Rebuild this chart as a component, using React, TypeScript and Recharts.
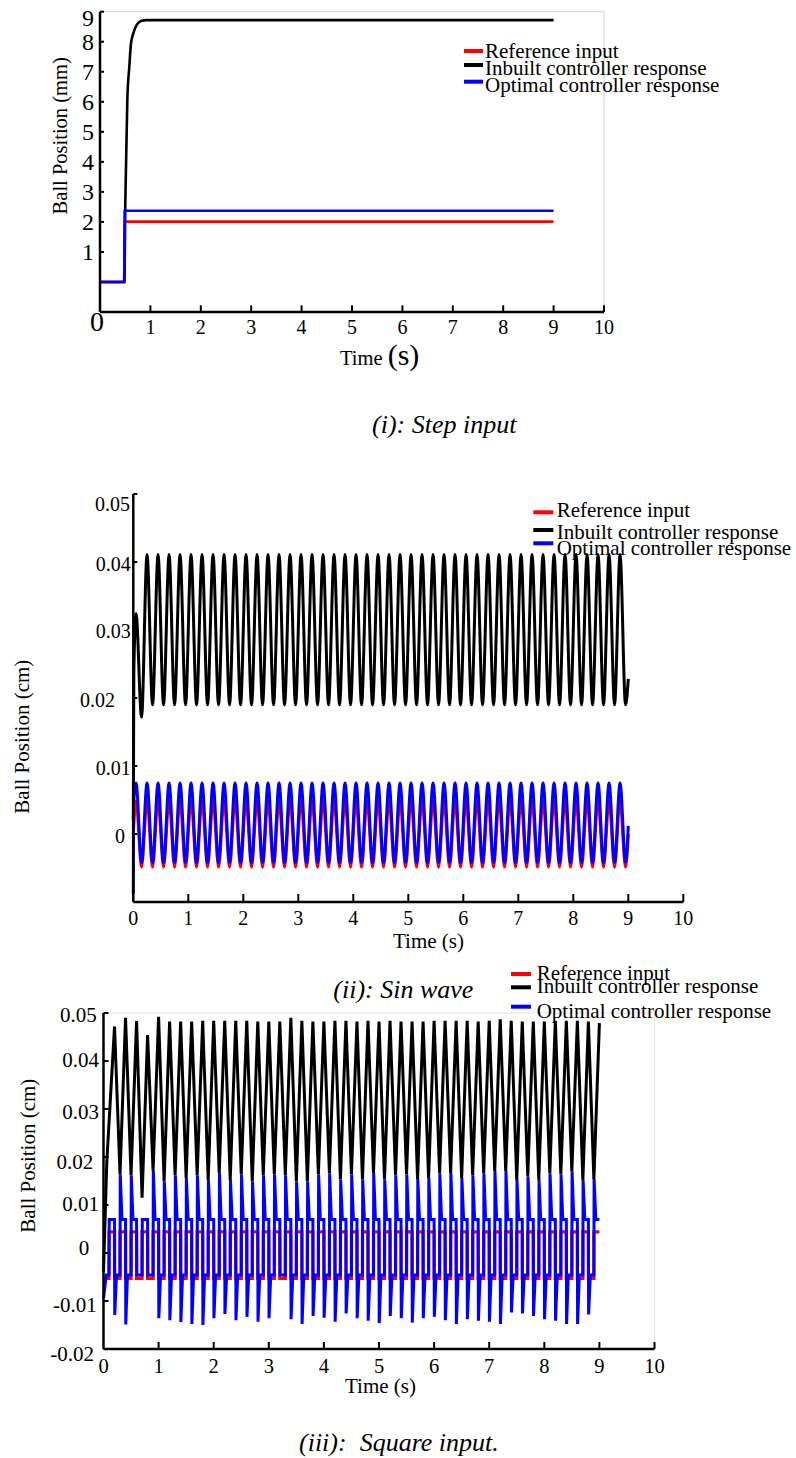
import React from 'react';
import { LineChart, Line, XAxis, YAxis, ReferenceLine, Legend, Label } from 'recharts';

const FONT = '"Liberation Serif", "Times New Roman", Times, serif';
const RED = '#ff0000';
const BLACK = '#000000';
const BLUE = '#0000ff';

// ---------- shared ----------
const seriesNames = ['Reference input', 'Inbuilt controller response', 'Optimal controller response'];
const seriesColors = [RED, BLACK, BLUE];
const timeTicks = [0, 1, 2, 3, 4, 5, 6, 7, 8, 9, 10];

// ---------- (i) step input ----------
const stepYTicks = [1, 2, 3, 4, 5, 6, 7, 8, 9];
const stepRefTime = [0, 0.48, 0.49, 9];
const stepRefValue = [0, 0, 2.01, 2.01];
const stepInbuiltTime = [0, 0.483, 0.503, 0.542, 0.582, 0.615, 0.661, 0.728, 0.827, 0.926, 9];
const stepInbuiltValue = [0, 0, 2.72, 6.06, 7.17, 7.95, 8.28, 8.56, 8.7, 8.72, 8.72];
const stepOptimalTime = [0, 0.48, 0.49, 9];
const stepOptimalValue = [0, 0, 2.37, 2.37];

// ---------- (ii) sine wave ----------
const sinYTicks = [0, 0.01, 0.02, 0.03, 0.04, 0.05];
const sinPeakTimes = [0.05, 0.25, 0.45, 0.65, 0.85, 1.05, 1.25, 1.45, 1.65, 1.85, 2.05, 2.25, 2.45, 2.65, 2.85,
  3.05, 3.25, 3.45, 3.65, 3.85, 4.05, 4.25, 4.45, 4.65, 4.85, 5.05, 5.25, 5.45, 5.65, 5.85,
  6.05, 6.25, 6.45, 6.65, 6.85, 7.05, 7.25, 7.45, 7.65, 7.85, 8.05, 8.25, 8.45, 8.65, 8.85];
const sinTroughTimes = [0.15, 0.35, 0.55, 0.75, 0.95, 1.15, 1.35, 1.55, 1.75, 1.95, 2.15, 2.35, 2.55, 2.75, 2.95,
  3.15, 3.35, 3.55, 3.75, 3.95, 4.15, 4.35, 4.55, 4.75, 4.95, 5.15, 5.35, 5.55, 5.75, 5.95,
  6.15, 6.35, 6.55, 6.75, 6.95, 7.15, 7.35, 7.55, 7.75, 7.95, 8.15, 8.35, 8.55, 8.75, 8.95];
const sinRefStartTime = [0];
const sinRefStartValue = [0];
const sinRefPeak = 0.0049;
const sinRefTrough = -0.0049;
const sinRefEnd = 0;
const sinInbuiltStartTime = [0, 0.01];
const sinInbuiltStartValue = [0.002, 0.024];
const sinInbuiltPeaks = [0.0324,
  0.0411, 0.0411, 0.0411, 0.0411, 0.0411, 0.0411, 0.0411, 0.0411, 0.0411, 0.0411, 0.0411,
  0.0411, 0.0411, 0.0411, 0.0411, 0.0411, 0.0411, 0.0411, 0.0411, 0.0411, 0.0411, 0.0411,
  0.0411, 0.0411, 0.0411, 0.0411, 0.0411, 0.0411, 0.0411, 0.0411, 0.0411, 0.0411, 0.0411,
  0.0411, 0.0411, 0.0411, 0.0411, 0.0411, 0.0411, 0.0411, 0.0411, 0.0411, 0.0411, 0.0411];
const sinInbuiltTroughs = [0.0172,
  0.019, 0.019, 0.019, 0.019, 0.019, 0.019, 0.019, 0.019, 0.019, 0.019, 0.019,
  0.019, 0.019, 0.019, 0.019, 0.019, 0.019, 0.019, 0.019, 0.019, 0.019, 0.019,
  0.019, 0.019, 0.019, 0.019, 0.019, 0.019, 0.019, 0.019, 0.019, 0.019, 0.019,
  0.019, 0.019, 0.019, 0.019, 0.019, 0.019, 0.019, 0.019, 0.019, 0.019, 0.019];
const sinInbuiltEnd = 0.0228;
const sinOptimalStartTime = [0, 0.004];
const sinOptimalStartValue = [-0.0088, 0.004];
const sinOptimalPeak = 0.0075;
const sinOptimalTrough = -0.0042;
const sinOptimalEnd = 0.0012;
const sinEndTime = 9;

// ---------- (iii) square input ----------
const sqYTicks = [-0.02, -0.01, 0, 0.01, 0.02, 0.03, 0.04, 0.05];
const risingEdges = [0.1, 0.3, 0.5, 0.7, 0.9, 1.1, 1.3, 1.5, 1.7, 1.9, 2.1, 2.3, 2.5, 2.7, 2.9,
  3.1, 3.3, 3.5, 3.7, 3.9, 4.1, 4.3, 4.5, 4.7, 4.9, 5.1, 5.3, 5.5, 5.7, 5.9,
  6.1, 6.3, 6.5, 6.7, 6.9, 7.1, 7.3, 7.5, 7.7, 7.9, 8.1, 8.3, 8.5, 8.7, 8.9];
const fallingEdges = [0.2, 0.4, 0.6, 0.8, 1.0, 1.2, 1.4, 1.6, 1.8, 2.0, 2.2, 2.4, 2.6, 2.8, 3.0,
  3.2, 3.4, 3.6, 3.8, 4.0, 4.2, 4.4, 4.6, 4.8, 5.0, 5.2, 5.4, 5.6, 5.8, 6.0,
  6.2, 6.4, 6.6, 6.8, 7.0, 7.2, 7.4, 7.6, 7.8, 8.0, 8.2, 8.4, 8.6, 8.8, 9.0];
const sqRefLow = -0.0053;
const sqRefHigh = 0.0044;
const sqInbuiltStartTime = [0, 0.06];
const sqInbuiltStartValue = [-0.004, 0.019];
const sqInbuiltPeaks = [0.0472, 0.049, 0.0483, 0.0454, 0.0492, 0.0482, 0.0482, 0.0482, 0.0484, 0.0484,
  0.0484, 0.0484, 0.0484, 0.0482, 0.0482, 0.0482, 0.049, 0.0484, 0.0482, 0.0482,
  0.0484, 0.0484, 0.0482, 0.0484, 0.0482, 0.0484, 0.0482, 0.0482, 0.0482, 0.0484,
  0.0484, 0.0484, 0.0484, 0.0482, 0.0484, 0.0487, 0.0484, 0.0482, 0.0482, 0.0482,
  0.0484, 0.0484, 0.0484, 0.0482, 0.0479];
const sqInbuiltTroughs = [0.0164, 0.0162, 0.0115, 0.0171, 0.0149, 0.0162, 0.0156, 0.0162, 0.0152, 0.0167,
  0.0152, 0.0164, 0.0149, 0.0162, 0.0164, 0.0162, 0.0149, 0.0149, 0.0164, 0.0166,
  0.0153, 0.0164, 0.0153, 0.0167, 0.0153, 0.0162, 0.0164, 0.0154, 0.0156, 0.0166,
  0.0167, 0.0156, 0.0162, 0.0166, 0.0171, 0.0171, 0.0152, 0.016, 0.0152, 0.0166,
  0.0164, 0.017, 0.0152, 0.0154];
const sqOptimalStartTime = [0, 0.05];
const sqOptimalStartValue = [-0.0095, -0.0046];
const sqOptimalHigh = 0.007;
const sqOptimalLow = -0.0046;
const sqOptimalUpSpikes: (number | null)[] = [null, 0.0164, 0.0162, null, 0.0171, 0.0149, 0.0162, 0.0156, 0.0162, 0.0152,
  0.0167, 0.0152, 0.0164, 0.0149, 0.0162, 0.0164, 0.0162, 0.0149, 0.0149, 0.0164,
  0.0166, 0.0153, 0.0164, 0.0153, 0.0167, 0.0153, 0.0162, 0.0164, 0.0154, 0.0156,
  0.0166, 0.0167, 0.0156, 0.0162, 0.0166, 0.0171, 0.0171, 0.0152, 0.016, 0.0152,
  0.0166, 0.0164, 0.017, 0.0152, 0.0154];
const sqOptimalDownSpikes: (number | null)[] = [-0.0129, -0.0149, null, null, -0.0136, -0.014, -0.0144, -0.0148, -0.015, -0.0136,
  -0.0127, -0.014, -0.0133, -0.0143, -0.0136, null, -0.0138, -0.0148, -0.0131, -0.0135,
  -0.0143, -0.0126, -0.0136, -0.0141, -0.0146, -0.0131, -0.0136, -0.0145, -0.0136, -0.0133,
  -0.014, -0.0148, -0.0138, -0.0141, -0.0143, -0.0148, -0.0124, -0.0126, -0.0131, -0.0138,
  -0.0141, -0.0148, -0.0148, -0.0128, null];

// ---------- builders ----------
type Pt = { t: number; v: number };
const zip = (ts: number[], vs: number[]): Pt[] => ts.map((t, i) => ({ t, v: vs[i] }));
const at = (x: number | number[], i: number) => (Array.isArray(x) ? x[i] : x);

function oscillation(st: number[], sv: number[], peaks: number | number[], troughs: number | number[], endV: number): Pt[] {
  const pts = zip(st, sv);
  sinPeakTimes.forEach((t, i) => {
    pts.push({ t, v: at(peaks, i) });
    pts.push({ t: sinTroughTimes[i], v: at(troughs, i) });
  });
  pts.push({ t: sinEndTime, v: endV });
  return pts;
}

const EDGE = 0.004; // width of a switching edge (s)
const SETTLE = 0.035; // settling after a spike (s)

function squareRef(): Pt[] {
  const pts: Pt[] = [{ t: 0, v: sqRefLow }];
  const last = risingEdges.length - 1;
  risingEdges.forEach((r, k) => {
    const f = fallingEdges[k];
    pts.push({ t: r, v: sqRefLow }, { t: r, v: sqRefHigh }, { t: f, v: sqRefHigh });
    if (k < last) pts.push({ t: f, v: sqRefLow });
  });
  return pts;
}

function squareInbuilt(): Pt[] {
  const pts = zip(sqInbuiltStartTime, sqInbuiltStartValue);
  const last = fallingEdges.length - 1;
  fallingEdges.forEach((f, k) => {
    pts.push({ t: f, v: sqInbuiltPeaks[k] });
    if (k < last) pts.push({ t: risingEdges[k + 1], v: sqInbuiltTroughs[k] });
  });
  return pts;
}

function squareOptimal(): Pt[] {
  const pts = zip(sqOptimalStartTime, sqOptimalStartValue);
  const last = risingEdges.length - 1;
  risingEdges.forEach((r, k) => {
    const f = fallingEdges[k];
    pts.push({ t: r, v: sqOptimalLow });
    const up = sqOptimalUpSpikes[k];
    if (up != null) pts.push({ t: r + EDGE, v: up }, { t: r + SETTLE, v: sqOptimalHigh });
    else pts.push({ t: r + EDGE, v: sqOptimalHigh });
    pts.push({ t: f, v: sqOptimalHigh });
    if (k < last) {
      const dn = sqOptimalDownSpikes[k];
      if (dn != null) pts.push({ t: f + EDGE, v: dn }, { t: f + SETTLE, v: sqOptimalLow });
      else pts.push({ t: f + EDGE, v: sqOptimalLow });
    }
  });
  return pts;
}

const stepRef = zip(stepRefTime, stepRefValue);
const stepInbuilt = zip(stepInbuiltTime, stepInbuiltValue);
const stepOptimal = zip(stepOptimalTime, stepOptimalValue);
const sinRef = oscillation(sinRefStartTime, sinRefStartValue, sinRefPeak, sinRefTrough, sinRefEnd);
const sinInbuilt = oscillation(sinInbuiltStartTime, sinInbuiltStartValue, sinInbuiltPeaks, sinInbuiltTroughs, sinInbuiltEnd);
const sinOptimal = oscillation(sinOptimalStartTime, sinOptimalStartValue, sinOptimalPeak, sinOptimalTrough, sinOptimalEnd);
const sqRef = squareRef();
const sqInbuilt = squareInbuilt();
const sqOptimal = squareOptimal();

// ---------- ticks ----------
type XTickCfg = { len: number; fs: number; base: number; zeroFs?: number; zeroBase?: number; zeroDx?: number };
const makeXTick = (c: XTickCfg) => (p: any) => {
  const { x, y, payload } = p;
  const v = payload.value;
  const zero = v === 0;
  return (
    <g>
      {!zero && <line x1={x} y1={y} x2={x} y2={y - c.len} stroke={BLACK} strokeWidth={2} />}
      <text
        x={x + (zero && c.zeroDx ? c.zeroDx : 0)}
        y={y + (zero && c.zeroBase != null ? c.zeroBase : c.base)}
        textAnchor="middle"
        fontFamily={FONT}
        fontSize={zero && c.zeroFs ? c.zeroFs : c.fs}
        fill={BLACK}
      >
        {String(v)}
      </text>
    </g>
  );
};

type YTickCfg = { len: number; fs: number; gap: number; dy: number; dxMap?: Record<string, number>; dyMap?: Record<string, number> };
const makeYTick = (c: YTickCfg) => (p: any) => {
  const { x, y, payload } = p;
  const key = String(payload.value);
  return (
    <g>
      <line x1={x} y1={y} x2={x + c.len} y2={y} stroke={BLACK} strokeWidth={2} />
      <text
        x={x - c.gap + (c.dxMap?.[key] ?? 0)}
        y={y + c.dy + (c.dyMap?.[key] ?? 0)}
        textAnchor="end"
        fontFamily={FONT}
        fontSize={c.fs}
        fill={BLACK}
      >
        {key}
      </text>
    </g>
  );
};

// ---------- legend ----------
type LegendCfg = { x1: number; x2: number; textX: number; lineY: number[]; baseY: number[] };
const LegendBox = ({ cfg }: { cfg: LegendCfg }) => (
  <svg width={320} height={80} style={{ overflow: 'visible', display: 'block' }}>
    {seriesNames.map((name, i) => (
      <g key={name}>
        <line x1={cfg.x1} x2={cfg.x2} y1={cfg.lineY[i]} y2={cfg.lineY[i]} stroke={seriesColors[i]} strokeWidth={4} />
        <text x={cfg.textX} y={cfg.baseY[i]} fontFamily={FONT} fontSize={21} fill={BLACK}>
          {name}
        </text>
      </g>
    ))}
  </svg>
);

const axisLine = { stroke: BLACK, strokeWidth: 2.5 };

const yTitle = (x: number, y: number, text: string, fs: number) => () => (
  <text x={x} y={y} transform={`rotate(-90 ${x} ${y})`} textAnchor="middle" fontFamily={FONT} fontSize={fs} fill={BLACK}>
    {text}
  </text>
);

// ---------- charts ----------
const P1_TOP = 0;
const P2_TOP = 460;
const P3_TOP = 940;

function StepChart() {
  return (
    <LineChart width={796} height={402} margin={{ top: 11.7, right: 192, bottom: 60, left: 40 }}>
      <ReferenceLine y={9} stroke="#d2d2d2" strokeWidth={1} />
      <ReferenceLine x={10} stroke="#d2d2d2" strokeWidth={1} />
      <XAxis
        dataKey="t"
        type="number"
        domain={[0, 10]}
        ticks={timeTicks}
        interval={0}
        height={30}
        tickSize={0}
        tickMargin={0}
        tickLine={false}
        axisLine={axisLine}
        tick={makeXTick({ len: 6.7, fs: 20, base: 21.6, zeroFs: 28, zeroBase: 19, zeroDx: -3 })}
      >
        <Label
          content={() => (
            <text x={340} y={365 - P1_TOP} fontFamily={FONT} fill={BLACK}>
              <tspan fontSize={20.5}>Time </tspan>
              <tspan fontSize={30}>(s)</tspan>
            </text>
          )}
        />
      </XAxis>
      <YAxis
        type="number"
        domain={[-1, 9]}
        ticks={stepYTicks}
        interval={0}
        width={60}
        tickSize={0}
        tickMargin={0}
        tickLine={false}
        axisLine={axisLine}
        tick={makeYTick({ len: 4, fs: 24, gap: 6, dy: 8, dyMap: { '9': 6 } })}
      >
        <Label content={yTitle(67.2, 135.8 - P1_TOP, 'Ball Position (mm)', 20.5)} />
      </YAxis>
      <Legend
        layout="vertical"
        align="center"
        verticalAlign="middle"
        wrapperStyle={{ position: 'absolute', left: 460, top: 35 - P1_TOP, width: 320, height: 80 }}
        content={() => <LegendBox cfg={{ x1: 4, x2: 23, textX: 25, lineY: [16, 30, 46.7], baseY: [23.3, 40, 56.7] }} />}
      />
      <Line data={stepRef} dataKey="v" name={seriesNames[0]} type="linear" stroke={RED} strokeWidth={2.6} dot={false} activeDot={false} isAnimationActive={false} />
      <Line data={stepInbuilt} dataKey="v" name={seriesNames[1]} type="monotone" stroke={BLACK} strokeWidth={2.6} dot={false} activeDot={false} isAnimationActive={false} />
      <Line data={stepOptimal} dataKey="v" name={seriesNames[2]} type="linear" stroke={BLUE} strokeWidth={2.6} dot={false} activeDot={false} isAnimationActive={false} />
    </LineChart>
  );
}

function SinChart() {
  return (
    <LineChart width={796} height={512} margin={{ top: 34, right: 112.7, bottom: 40, left: 73.3 }}>
      <XAxis
        dataKey="t"
        type="number"
        domain={[0, 10]}
        ticks={timeTicks}
        interval={0}
        height={30}
        tickSize={0}
        tickMargin={0}
        tickLine={false}
        axisLine={axisLine}
        tick={makeXTick({ len: 8, fs: 20, base: 23.3 })}
      >
        <Label
          content={() => (
            <text x={428.5} y={948 - P2_TOP} textAnchor="middle" fontFamily={FONT} fontSize={21} fill={BLACK}>
              Time (s)
            </text>
          )}
        />
      </XAxis>
      <YAxis
        type="number"
        domain={[-0.01, 0.05]}
        ticks={sinYTicks}
        interval={0}
        width={60}
        tickSize={0}
        tickMargin={0}
        tickLine={false}
        axisLine={axisLine}
        tick={makeYTick({
          len: 4,
          fs: 20,
          gap: 2.5,
          dy: 9.1,
          dxMap: { '0.05': -0.8, '0.02': -15.8, '0': -5.8 },
          dyMap: { '0.05': 7.5, '0.03': -1.5 },
        })}
      >
        <Label content={yTitle(28.7, 736.7 - P2_TOP, 'Ball Position (cm)', 21)} />
      </YAxis>
      <Legend
        layout="vertical"
        align="center"
        verticalAlign="middle"
        wrapperStyle={{ position: 'absolute', left: 530, top: 495 - P2_TOP, width: 320, height: 80 }}
        content={() => <LegendBox cfg={{ x1: 3.3, x2: 23.3, textX: 26.7, lineY: [17.3, 35, 48.3], baseY: [22.3, 44.3, 60] }} />}
      />
      <Line data={sinRef} dataKey="v" name={seriesNames[0]} type="monotone" stroke={RED} strokeWidth={3} dot={false} activeDot={false} isAnimationActive={false} />
      <Line data={sinInbuilt} dataKey="v" name={seriesNames[1]} type="monotone" stroke={BLACK} strokeWidth={3} dot={false} activeDot={false} isAnimationActive={false} />
      <Line data={sinOptimal} dataKey="v" name={seriesNames[2]} type="monotone" stroke={BLUE} strokeWidth={3} dot={false} activeDot={false} isAnimationActive={false} />
    </LineChart>
  );
}

function SquareChart() {
  return (
    <LineChart width={796} height={479} margin={{ top: 73, right: 141.5, bottom: 40, left: 43.5 }}>
      <ReferenceLine y={0.05} stroke="#e2e2e2" strokeWidth={1} />
      <ReferenceLine x={10} stroke="#e2e2e2" strokeWidth={1} />
      <XAxis
        dataKey="t"
        type="number"
        domain={[0, 10]}
        ticks={timeTicks}
        interval={0}
        height={30}
        tickSize={0}
        tickMargin={0}
        tickLine={false}
        axisLine={axisLine}
        tick={makeXTick({ len: 7, fs: 20.5, base: 24 })}
      >
        <Label
          content={() => (
            <text x={380.5} y={1393 - P3_TOP} textAnchor="middle" fontFamily={FONT} fontSize={21} fill={BLACK}>
              Time (s)
            </text>
          )}
        />
      </XAxis>
      <YAxis
        type="number"
        domain={[-0.02, 0.05]}
        ticks={sqYTicks}
        interval={0}
        width={60}
        tickSize={0}
        tickMargin={0}
        tickLine={false}
        axisLine={axisLine}
        tick={makeYTick({
          len: 5,
          fs: 21,
          gap: 4.5,
          dy: 8,
          dxMap: { '0.05': -2.3, '0.02': -5.7, '0': -9.7, '-0.01': -2.2, '-0.02': -5 },
          dyMap: { '0.05': 1, '0.04': -2, '0.03': 1.7, '0.02': 3.7, '0.01': -2, '0': -5.7, '-0.01': 3, '-0.02': 4 },
        })}
      >
        <Label content={yTitle(35.4, 1155.7 - P3_TOP, 'Ball Position (cm)', 21)} />
      </YAxis>
      <Legend
        layout="vertical"
        align="center"
        verticalAlign="middle"
        wrapperStyle={{ position: 'absolute', left: 505, top: 955 - P3_TOP, width: 320, height: 80 }}
        content={() => <LegendBox cfg={{ x1: 6, x2: 26, textX: 31.7, lineY: [19, 32.3, 51.7], baseY: [25, 38.3, 63.3] }} />}
      />
      <Line data={sqRef} dataKey="v" name={seriesNames[0]} type="linear" stroke={RED} strokeWidth={3.2} dot={false} activeDot={false} isAnimationActive={false} />
      <Line data={sqInbuilt} dataKey="v" name={seriesNames[1]} type="linear" stroke={BLACK} strokeWidth={3} dot={false} activeDot={false} isAnimationActive={false} />
      <Line data={sqOptimal} dataKey="v" name={seriesNames[2]} type="linear" stroke={BLUE} strokeWidth={3} dot={false} activeDot={false} isAnimationActive={false} />
    </LineChart>
  );
}

export default function App() {
  return (
    <div style={{ position: 'absolute', left: 0, top: 0, width: 796, height: 1458, background: '#ffffff', overflow: 'hidden' }}>
      <svg width={796} height={1458} style={{ position: 'absolute', left: 0, top: 0 }}>
        <text x={372} y={433} fontFamily={FONT} fontStyle="italic" fontSize={26} fill={BLACK} style={{ whiteSpace: 'pre' }}>
          (i): Step input
        </text>
        <text x={333.3} y={998} fontFamily={FONT} fontStyle="italic" fontSize={26} fill={BLACK} style={{ whiteSpace: 'pre' }}>
          (ii): Sin wave
        </text>
        <text x={299} y={1451} fontFamily={FONT} fontStyle="italic" fontSize={26} fill={BLACK} style={{ whiteSpace: 'pre' }}>
          {'(iii):  Square input.'}
        </text>
      </svg>
      <div style={{ position: 'absolute', left: 0, top: P1_TOP }}>
        <StepChart />
      </div>
      <div style={{ position: 'absolute', left: 0, top: P2_TOP }}>
        <SinChart />
      </div>
      <div style={{ position: 'absolute', left: 0, top: P3_TOP }}>
        <SquareChart />
      </div>
    </div>
  );
}
